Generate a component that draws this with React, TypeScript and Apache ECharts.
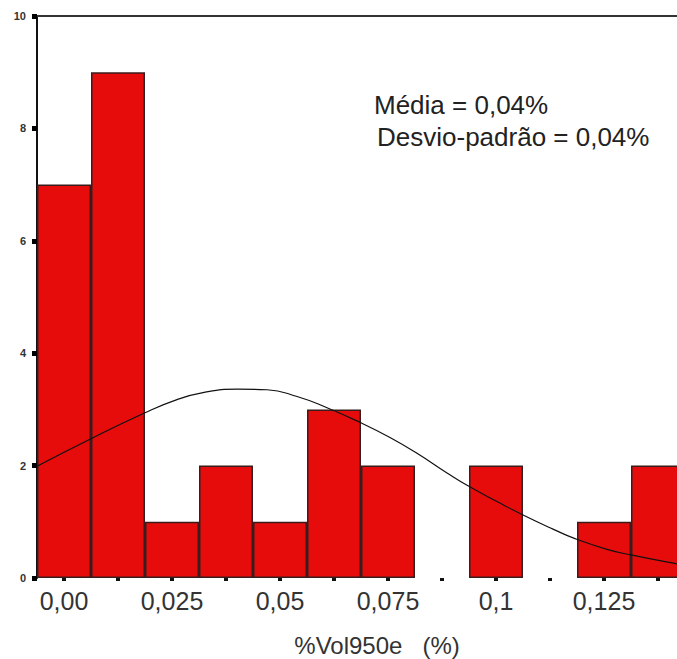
import React, { useEffect, useRef } from "react";
import * as echarts from "echarts";

// Histogram bins (bin centers, width 0.0125)
const binLabels = ["0,00", "0,0125", "0,025", "0,0375", "0,05", "0,0625", "0,075", "0,0875", "0,1", "0,1125", "0,125", "0,1375"];
const counts = [7, 9, 1, 2, 1, 3, 2, 0, 2, 0, 1, 2];

// Normal curve: [x value, frequency]
const curveX = [-0.00625, 0.00602, 0.01875, 0.02600, 0.03218, 0.04005, 0.04699, 0.05394, 0.06088, 0.06852, 0.07546, 0.08171, 0.08866, 0.09352, 0.10023, 0.10602, 0.11319, 0.11829, 0.12569, 0.13125, 0.1419, 0.14375];
const curveY = [1.99, 2.47, 2.94, 3.17, 3.30, 3.36, 3.35, 3.23, 3.03, 2.77, 2.50, 2.22, 1.87, 1.64, 1.36, 1.13, 0.87, 0.70, 0.51, 0.41, 0.25, 0.23];

const yTicks = [0, 2, 4, 6, 8, 10];
const statLines = ["Média = 0,04%", "Desvio-padrão = 0,04%"];
const xAxisTitle = "%Vol950e   (%)";

const FONT = "Liberation Sans, Arial, sans-serif";

export default function App() {
  const ref = useRef<HTMLDivElement>(null);
  useEffect(() => {
    document.body.style.margin = "0";
    const chart = echarts.init(ref.current!, null, { renderer: "svg" });
    const xMin = -0.00625;
    const xMax = xMin + counts.length * 0.0125;
    chart.setOption({
      animation: false,
      backgroundColor: "#ffffff",
      grid: { left: 37, top: 16, right: 0, bottom: 81, containLabel: false },
      xAxis: [
        {
          type: "category",
          data: binLabels,
          boundaryGap: true,
          axisLine: { show: false },
          axisTick: { show: true, alignWithLabel: true, interval: 0, length: 3, lineStyle: { color: "#111", width: 4 } },
          axisLabel: { interval: 1, margin: 10, fontSize: 25, fontFamily: FONT, color: "#333" },
          splitLine: { show: false },
        },
        {
          type: "value",
          min: xMin,
          max: xMax,
          show: false,
        },
        {
          type: "value",
          position: "top",
          min: xMin,
          max: xMax,
          axisLine: { show: true, onZero: false, lineStyle: { color: "#333", width: 2 } },
          axisTick: { show: false },
          axisLabel: { show: false },
          splitLine: { show: false },
        },
      ],
      yAxis: {
        type: "value",
        min: yTicks[0],
        max: yTicks[yTicks.length - 1],
        interval: 2,
        axisLine: { show: true, onZero: false, lineStyle: { color: "#111", width: 2 } },
        axisTick: { show: true, length: 5, lineStyle: { color: "#000", width: 5 } },
        axisLabel: { margin: 11, fontSize: 11, fontWeight: "bold", fontFamily: FONT, color: "#333" },
        splitLine: { show: false },
      },
      series: [
        {
          type: "bar",
          xAxisIndex: 0,
          barCategoryGap: "0%",
          data: counts.map((v) => (v === 0 ? { value: 0, itemStyle: { borderWidth: 0 } } : v)),
          itemStyle: { color: "#e60c0c", borderColor: "#3a1c1c", borderWidth: 1.5 },
        },
        {
          type: "line",
          xAxisIndex: 1,
          data: curveX.map((x, i) => [x, curveY[i]]),
          smooth: true,
          showSymbol: false,
          clip: true,
          lineStyle: { color: "#111", width: 1.2 },
        },
      ],
      graphic: [
        {
          type: "text",
          left: 374,
          top: 92,
          style: { text: statLines[0], font: `26px ${FONT}`, fill: "#222" },
        },
        {
          type: "text",
          left: 377,
          top: 124,
          style: { text: statLines[1], font: `26px ${FONT}`, fill: "#222" },
        },
        {
          type: "text",
          x: 377,
          y: 645,
          style: { text: xAxisTitle, font: `24px ${FONT}`, fill: "#333", align: "center", verticalAlign: "middle" },
        },
      ],
    });
    return () => chart.dispose();
  }, []);
  return (
    <div style={{ width: 677, height: 659, overflow: "hidden" }}>
      <div ref={ref} style={{ width: 685, height: 659 }} />
    </div>
  );
}
